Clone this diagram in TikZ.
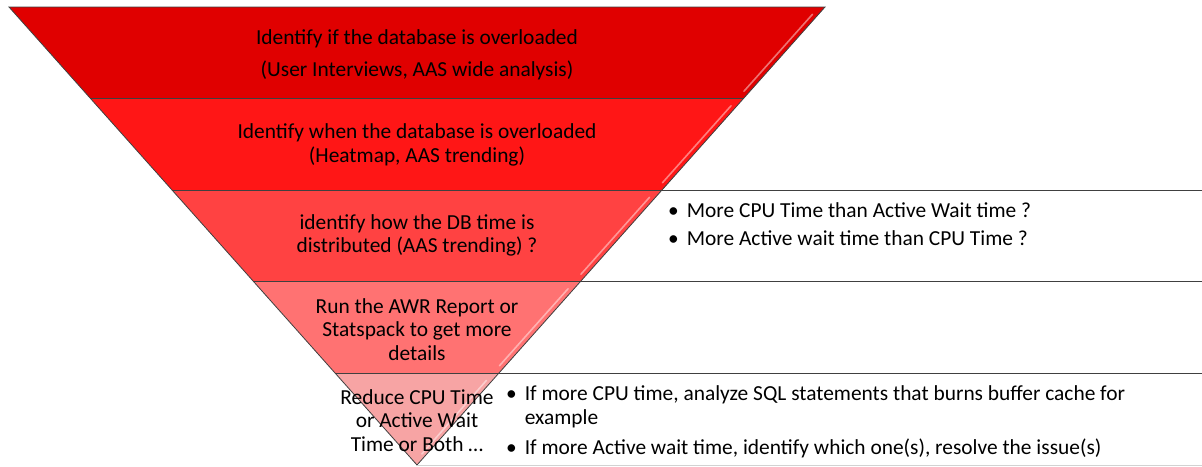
\documentclass[tikz,border=0pt]{standalone}
\usepackage{fontspec}
\setmainfont{Carlito}
\usetikzlibrary{calc}

\definecolor{bandA}{RGB}{224,0,0}
\definecolor{bandB}{RGB}{255,22,22}
\definecolor{bandC}{RGB}{255,66,66}
\definecolor{bandD}{RGB}{255,114,114}
\definecolor{bandE}{RGB}{247,164,164}
\definecolor{edge}{RGB}{64,64,64}
\definecolor{rule}{RGB}{210,210,210}

\begin{document}
\begin{tikzpicture}[
  x=1pt, y=-1pt,
  outline/.style={draw=edge, line width=0.8pt, line join=miter},
  sep/.style={draw=edge, line width=0.8pt},
  shine/.style={draw=white, opacity=0.45, line width=1.6pt, line cap=round},
  lbl/.style={align=center, inner sep=0pt, font=\fontsize{21.4}{23.5}\selectfont},
  note/.style={anchor=west, inner sep=0pt, font=\fontsize{21.4}{23.5}\selectfont}
]
\useasboundingbox (0,0) rectangle (1202,466);

% funnel corners, top to bottom
\coordinate (l0) at (9,7);       \coordinate (r0) at (825,7);
\coordinate (l1) at (90.5,98.5); \coordinate (r1) at (743.5,98.5);
\coordinate (l2) at (172,190);   \coordinate (r2) at (662,190);
\coordinate (l3) at (253.5,281.5); \coordinate (r3) at (580.5,281.5);
\coordinate (l4) at (335,373);   \coordinate (r4) at (499,373);
\coordinate (tip) at (417,465);

% right ends of the side rules
\coordinate (e2) at (1202,190);
\coordinate (e3) at (1202,281.5);
\coordinate (e4) at (1202,373);
\coordinate (e5) at (1202,465);

% bands
\fill[bandA] (l0) -- (r0) -- (r1) -- (l1) -- cycle;
\fill[bandB] (l1) -- (r1) -- (r2) -- (l2) -- cycle;
\fill[bandC] (l2) -- (r2) -- (r3) -- (l3) -- cycle;
\fill[bandD] (l3) -- (r3) -- (r4) -- (l4) -- cycle;
\fill[bandE] (l4) -- (r4) -- (tip) -- cycle;

% bevel light on the right side of each band
\draw[shine] ($(r1)!0.08!(r0)+(-6,0)$) -- ($(r0)!0.08!(r1)+(-6,0)$);
\draw[shine] ($(r2)!0.08!(r1)+(-6,0)$) -- ($(r1)!0.08!(r2)+(-6,0)$);
\draw[shine] ($(r3)!0.08!(r2)+(-6,0)$) -- ($(r2)!0.08!(r3)+(-6,0)$);
\draw[shine] ($(r4)!0.08!(r3)+(-6,0)$) -- ($(r3)!0.08!(r4)+(-6,0)$);
\draw[shine] ($(tip)!0.12!(r4)+(-5,0)$) -- ($(r4)!0.08!(tip)+(-6,0)$);

% outline and band borders
\draw[outline] (l0) -- (r0) -- (tip) -- cycle;
\draw[sep] (l1) -- (r1);
\draw[sep] (l2) -- (r2);
\draw[sep] (l3) -- (r3);
\draw[sep] (l4) -- (r4);

% rules out to the right
\draw[sep] (r2) -- (e2);
\draw[sep] (r3) -- (e3);
\draw[sep] (r4) -- (e4);
\draw[draw=rule, line width=0.8pt] (tip) -- (e5);

% funnel texts
\node[lbl] (s1) at (417,55) {Identify if the database is overloaded\\[9pt]
  (User Interviews, AAS wide analysis)};
\node[lbl] (s2) at (417,145) {Identify when the database is overloaded\\
  (Heatmap, AAS trending)};
\node[lbl] (s3) at (417,235.5) {identify how the DB time is\\
  distributed (AAS trending) ?};
\node[lbl] (s4) at (417,329.5) {Run the AWR Report or\\Statspack to get more\\details};
\node[lbl] (s5) at (417,420.5) {Reduce CPU Time\\or Active Wait\\Time or Both \dots};

% side notes
\node[note] (n3) at (668,227) {\begin{tabular}{@{}l@{\hspace{8pt}}l@{}}
  \textbullet & More CPU Time than Active Wait time ?\\[4pt]
  \textbullet & More Active wait time than CPU Time ?
\end{tabular}};
\node[note] (n5) at (506,423) {\begin{tabular}{@{}l@{\hspace{8pt}}l@{}}
  \textbullet & If more CPU time, analyze SQL statements that burns buffer cache for\\
              & example\\[7pt]
  \textbullet & If more Active wait time, identify which one(s), resolve the issue(s)
\end{tabular}};
\end{tikzpicture}
\end{document}
